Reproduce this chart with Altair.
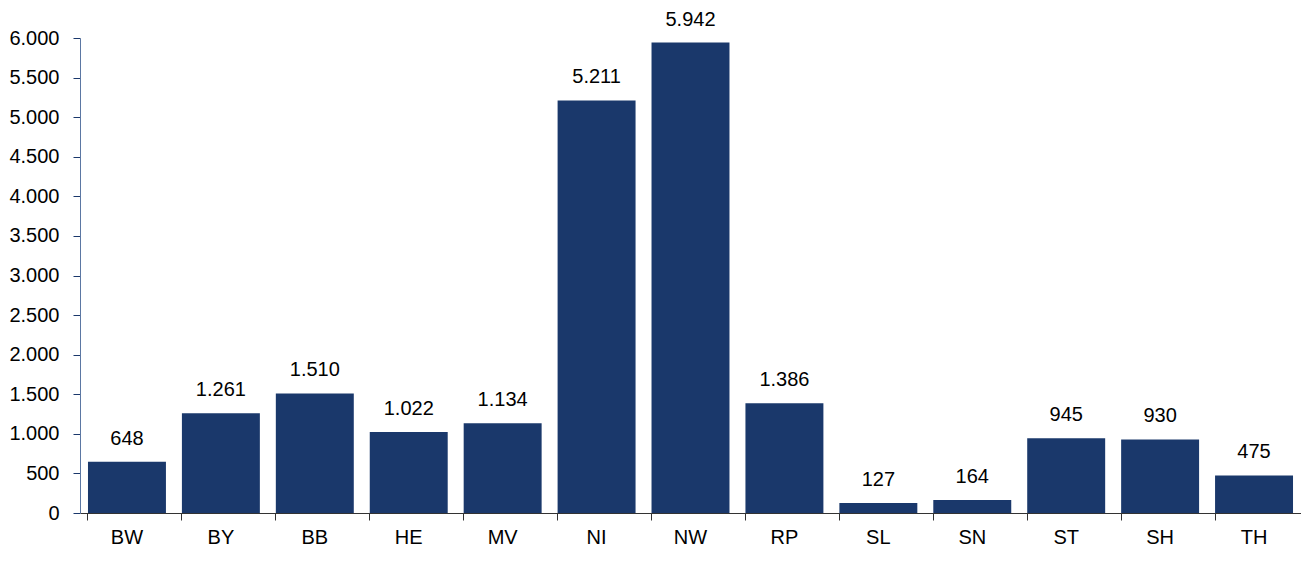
import altair as alt
import pandas as pd

states = ["BW", "BY", "BB", "HE", "MV", "NI", "NW", "RP", "SL", "SN", "ST", "SH", "TH"]
values = [648, 1261, 1510, 1022, 1134, 5211, 5942, 1386, 127, 164, 945, 930, 475]
y_ticks = list(range(0, 6001, 500))

df = pd.DataFrame({"state": states, "value": values})

FONT = "Liberation Sans"
NAVY = "#1a386b"

base = alt.Chart(df)

x_enc = alt.X("state:N", sort=states, title=None,
              scale=alt.Scale(paddingInner=0.17, paddingOuter=0.085),
              axis=alt.Axis(labelAngle=0, domainColor="#333333", tickColor="#333333",
                            tickSize=7, bandPosition=0, labelPadding=7,
                            labelFontSize=20, labelColor="#000000", labelFont=FONT))
y_enc = alt.Y("value:Q", title=None,
              scale=alt.Scale(domain=[0, 6000], nice=False),
              axis=alt.Axis(values=y_ticks, format=",d", grid=False, labelOverlap=False,
                            tickCount=13,
                            domainColor="#5b77a3", tickColor=NAVY, tickSize=7,
                            labelPadding=14, labelFontSize=20, labelColor="#000000",
                            labelFont=FONT))

bars = base.mark_bar(color=NAVY).encode(x=x_enc, y=y_enc)
labels = base.mark_text(dy=-17, baseline="alphabetic", fontSize=20, font=FONT,
                        color="#000000").encode(
    x=x_enc,
    y=y_enc,
    text=alt.Text("value:Q", format=",d"),
)

chart = (bars + labels).properties(
    width=1221, height=475,
    autosize=alt.AutoSizeParams(type="none"),
    padding={"left": 72, "top": 30, "right": 0, "bottom": 40},
).configure(
    locale={"number": {"decimal": ",", "thousands": ".", "grouping": [3], "currency": ["", " €"]}}
).configure_view(stroke=None)

chart.save("out.html", embed_options={"renderer": "svg", "actions": False})
